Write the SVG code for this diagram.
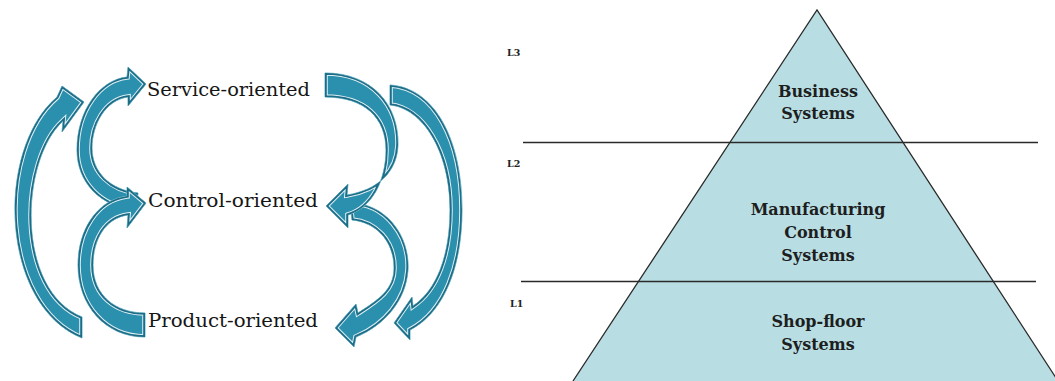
<svg xmlns="http://www.w3.org/2000/svg" xmlns:xlink="http://www.w3.org/1999/xlink" width="1055" height="381" viewBox="0 0 1055 381">
<style>
.base{fill:#2a90ae;stroke:#5fb4cb;stroke-width:1}
.rim{fill:none;stroke:#1c6d87;stroke-width:3.6}
.hl{fill:none;stroke:#ffffff;stroke-width:5.6;opacity:0.85}
.lbl{font-family:"DejaVu Serif","Liberation Serif",serif;font-size:18.5px;fill:#161616}
.lyr{font-family:"DejaVu Serif","Liberation Serif",serif;font-size:16px;font-weight:bold;fill:#1e1e1e;text-anchor:middle}
.lv{font-family:"DejaVu Serif","Liberation Serif",serif;font-size:9.5px;font-weight:bold;fill:#222}
.layer{fill:#b8dee4;stroke:none}
.edge{fill:none;stroke:#2a2a2a;stroke-width:1.3}
</style>
<defs>
<path id="pA" d="M84,102 L62,132 L63,121 C20,160 15,290 82,317 L82,338 C0,305 -5,150 57,97 L62,86 Z"/>
<path id="pB" d="M146,84 L128,106 L128,97 C105,100 92,125 92,148 C92,172 110,190 138,193 L136,210 C100,207 77,182 77,150 C77,110 100,80 127,77 L128,67 Z"/>
<path id="pC" d="M146,203 L127,228 L128,215 C105,218 93,240 93,265 C93,295 115,313 145,313 L145,337 C105,337 78,305 78,265 C78,230 97,200 127,196 L127,187 Z"/>
<path id="pD" d="M325,73 C372,73 399,105 398,145 C397,172 378,190 347,195 L348,184 L326,206 L348,228 L348,215 C372,208 386,180 386,150 C386,118 365,97 325,97 Z"/>
<path id="pE" d="M390,85 C435,88 462,140 462,210 C462,265 445,312 410,330 L410,340 L394,323 L412,297 L413,306 C437,290 450,255 450,210 C450,150 422,108 390,105 Z"/>
<path id="pF" d="M350,203 C385,203 410,235 408,270 C406,300 385,325 356,337 L354,347 L335,328 L356,304 L358,313 C378,300 394,290 394,268 C394,240 375,222 352,220 Z"/>
<clipPath id="cA"><use xlink:href="#pA"/></clipPath>
<clipPath id="cB"><use xlink:href="#pB"/></clipPath>
<clipPath id="cC"><use xlink:href="#pC"/></clipPath>
<clipPath id="cD"><use xlink:href="#pD"/></clipPath>
<clipPath id="cE"><use xlink:href="#pE"/></clipPath>
<clipPath id="cF"><use xlink:href="#pF"/></clipPath>
</defs>

<g id="connectors">
<g id="arrow-product-service-outer">
<use xlink:href="#pA" class="base"/>
<use xlink:href="#pA" class="hl" clip-path="url(#cA)"/>
<use xlink:href="#pA" class="rim" clip-path="url(#cA)"/>
</g>
<g id="arrow-control-service">
<use xlink:href="#pB" class="base"/>
<use xlink:href="#pB" class="hl" clip-path="url(#cB)"/>
<use xlink:href="#pB" class="rim" clip-path="url(#cB)"/>
</g>
<g id="arrow-product-control">
<use xlink:href="#pC" class="base"/>
<use xlink:href="#pC" class="hl" clip-path="url(#cC)"/>
<use xlink:href="#pC" class="rim" clip-path="url(#cC)"/>
</g>
<g id="arrow-control-product">
<use xlink:href="#pF" class="base"/>
<use xlink:href="#pF" class="hl" clip-path="url(#cF)"/>
<use xlink:href="#pF" class="rim" clip-path="url(#cF)"/>
</g>
<g id="arrow-service-control">
<use xlink:href="#pD" class="base"/>
<use xlink:href="#pD" class="hl" clip-path="url(#cD)"/>
<use xlink:href="#pD" class="rim" clip-path="url(#cD)"/>
</g>
<g id="arrow-service-product-outer">
<use xlink:href="#pE" class="base"/>
<use xlink:href="#pE" class="hl" clip-path="url(#cE)"/>
<use xlink:href="#pE" class="rim" clip-path="url(#cE)"/>
</g>
</g>

<g id="node-service"><text class="lbl" x="147" y="96" textLength="163" lengthAdjust="spacingAndGlyphs">Service-oriented</text></g>
<g id="node-control"><text class="lbl" x="148" y="207" textLength="170" lengthAdjust="spacingAndGlyphs">Control-oriented</text></g>
<g id="node-product"><text class="lbl" x="148" y="327" textLength="170" lengthAdjust="spacingAndGlyphs">Product-oriented</text></g>

<g id="layer-business">
<polygon class="layer" points="817,10 903,142 730,142"/>
<text class="lyr" x="818" y="97">Business</text>
<text class="lyr" x="818" y="119">Systems</text>
</g>
<g id="layer-manufacturing">
<polygon class="layer" points="730,142 903,142 993,281 639,281"/>
<text class="lyr" x="818" y="215">Manufacturing</text>
<text class="lyr" x="818" y="238">Control</text>
<text class="lyr" x="818" y="261">Systems</text>
</g>
<g id="layer-shopfloor">
<polygon class="layer" points="639,281 993,281 1058,381 573,381"/>
<text class="lyr" x="818" y="327">Shop-floor</text>
<text class="lyr" x="818" y="350">Systems</text>
</g>

<g id="pyramid-lines">
<polyline class="edge" points="573,381 817,10 1058,381"/>
<line class="edge" x1="523" y1="142.5" x2="1038" y2="142.5"/>
<line class="edge" x1="521" y1="281.5" x2="1036" y2="281.5"/>
</g>

<g id="level-labels">
<text class="lv" x="507" y="56">L3</text>
<text class="lv" x="507" y="167">L2</text>
<text class="lv" x="510" y="307">L1</text>
</g>
</svg>
